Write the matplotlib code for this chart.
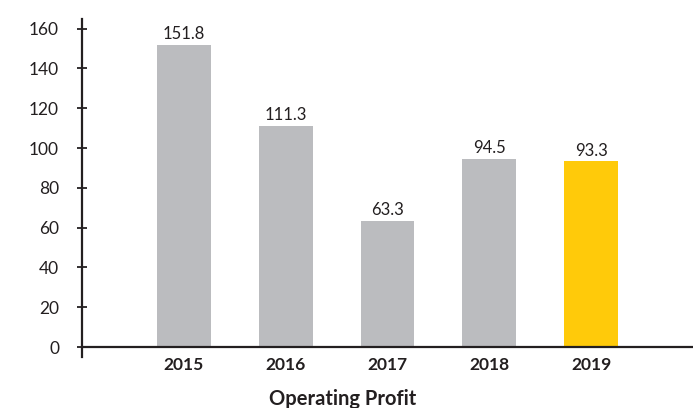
import matplotlib.pyplot as plt

years = ["2015", "2016", "2017", "2018", "2019"]
profit = [151.8, 111.3, 63.3, 94.5, 93.3]
bar_colors = ["#bbbcbf", "#bbbcbf", "#bbbcbf", "#bbbcbf", "#ffca0a"]
y_ticks = [0, 20, 40, 60, 80, 100, 120, 140, 160]

plt.rcParams["font.family"] = ["Lato", "DejaVu Sans"]
ink = "#231f20"

fig = plt.figure(figsize=(6.93, 4.08), dpi=100)
ax = fig.add_axes([82 / 693, 51 / 408, 1 - 82 / 693, 338.3 / 408])

# move the x axis line to y=0 first; this resets the ticks
for side in ["top", "right"]:
    ax.spines[side].set_visible(False)
ax.spines["bottom"].set_position(("data", 0))
for side in ["left", "bottom"]:
    ax.spines[side].set_color(ink)
    ax.spines[side].set_linewidth(1.6)

x = range(len(years))
bars = ax.bar(x, profit, width=0.53, color=bar_colors, zorder=2)

for rect, v in zip(bars, profit):
    ax.annotate(f"{v}", (rect.get_x() + rect.get_width() / 2, v),
                xytext=(0, 2), textcoords="offset points",
                ha="center", va="bottom", fontsize=12, color=ink)

ax.set_xlim(-1.0, 5.0)
ax.set_ylim(-5, 165)
ax.set_xticks(list(x))
ax.set_xticklabels(years, fontsize=12.5, fontweight="bold", color=ink)
ax.set_yticks(y_ticks)
ax.set_yticklabels([str(t) for t in y_ticks], fontsize=12.5, color=ink)

ax.tick_params(axis="y", direction="inout", length=7, width=1.3, color=ink, pad=13)
ax.tick_params(axis="x", length=0, pad=7)

fig.text(343 / 693, 1 - 399 / 408, "Operating Profit", ha="center", va="center",
         fontsize=14.5, fontweight="bold", color=ink)

fig.savefig("out.png", dpi=100)
